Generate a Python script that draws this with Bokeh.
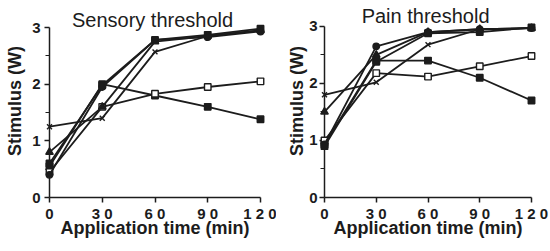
from bokeh.plotting import figure
from bokeh.layouts import row
from bokeh.models import FixedTicker, Label, Range1d
from bokeh.embed import file_html
from bokeh.resources import INLINE

# ---------------- data ----------------
times = [0, 30, 60, 90, 120]
x_ticks = [0, 30, 60, 90, 120]
x_tick_labels = {0: "0", 30: "3 0", 60: "6 0", 90: "9 0", 120: "1 2 0"}
y_ticks = [0, 1, 2, 3]
y_minor_ticks = [0.5, 1.5, 2.5]
titles = ["Sensory threshold", "Pain threshold"]
x_label = "Application time (min)"
y_label = "Stimulus (W)"

# Sensory threshold
sens_filled_square = [0.55, 2.0, 1.8, 1.6, 1.38]
sens_open_square = [0.45, 1.6, 1.83, 1.95, 2.05]
sens_circle = [0.4, 1.95, 2.78, 2.83, 2.93]
sens_top_square = [0.6, 1.98, 2.78, 2.87, 2.98]
sens_triangle = [0.8, 1.6, 2.75, 2.85, 2.95]
sens_cross = [1.25, 1.4, 2.57, 2.85, 2.95]

# Pain threshold
pain_filled_square = [0.93, 2.4, 2.4, 2.1, 1.7]
pain_open_square = [1.0, 2.18, 2.12, 2.3, 2.48]
pain_circle = [0.93, 2.65, 2.9, 2.95, 2.97]
pain_top_square = [0.9, 2.38, 2.88, 2.9, 2.98]
pain_triangle = [1.5, 2.5, 2.9, 2.95, 2.97]
pain_cross = [1.8, 2.02, 2.68, 2.95, 2.97]

FONT = "Liberation Sans"
INK = "#1c1c1c"


def make_panel(title, series, width, mb_left, mb_right, mb_top, mb_bottom,
               y_end, title_y, ylab_standoff, ylab_axis_standoff):
    p = figure(width=width, height=250, x_range=Range1d(0, 120), y_range=Range1d(0, y_end),
               output_backend="svg", toolbar_location=None, title=None,
               min_border_left=mb_left, min_border_right=mb_right,
               min_border_top=mb_top, min_border_bottom=mb_bottom)
    p.outline_line_color = None
    p.grid.visible = False
    p.background_fill_color = "white"
    p.border_fill_color = "white"

    p.xaxis.ticker = FixedTicker(ticks=x_ticks)
    p.xaxis.major_label_overrides = x_tick_labels
    p.yaxis.ticker = FixedTicker(ticks=y_ticks, minor_ticks=y_minor_ticks)
    p.yaxis.bounds = (0, 3)

    for ax in (p.xaxis, p.yaxis):
        ax.axis_line_color = INK
        ax.axis_line_width = 1.5
        ax.major_tick_line_color = INK
        ax.major_tick_line_width = 1.5
        ax.minor_tick_line_color = INK
        ax.minor_tick_line_width = 1.2
        ax.major_tick_in = 0
        ax.minor_tick_in = 0
        ax.major_label_text_font = FONT
        ax.major_label_text_font_style = "bold"
        ax.major_label_text_color = INK
        ax.axis_label_text_font = FONT
        ax.axis_label_text_font_style = "bold"
        ax.axis_label_text_color = INK

    p.xaxis.major_tick_out = 5
    p.xaxis.minor_tick_out = 0
    p.xaxis.major_label_text_font_size = "15px"
    p.xaxis.major_label_standoff = 2
    p.xaxis.axis_label = x_label
    p.xaxis.axis_label_text_font_size = "18px"
    p.xaxis.axis_label_standoff = -7

    p.yaxis.major_tick_out = 5
    p.yaxis.minor_tick_out = 4
    p.yaxis.major_label_text_font_size = "15px"
    p.yaxis.major_label_standoff = ylab_standoff
    p.yaxis.axis_label = y_label
    p.yaxis.axis_label_text_font_size = "18px"
    p.yaxis.axis_label_standoff = ylab_axis_standoff

    kinds = [
        ("square", INK, 6.5),
        ("square", "white", 6.5),
        ("circle", INK, 6.5),
        ("square", INK, 6.5),
        ("triangle", INK, 7.5),
        ("x", INK, 7),
    ]
    for vals, (marker, fill, size) in zip(series, kinds):
        p.line(times, vals, line_color=INK, line_width=1.8, level="overlay")
        p.scatter(times, vals, marker=marker, size=size, fill_color=fill,
                  line_color=INK, line_width=1.4, level="overlay")

    p.add_layout(Label(x=58.6, y=title_y, text=title, text_align="center",
                       text_baseline="alphabetic", text_font=FONT,
                       text_font_size="20px", text_color=INK))
    return p


left = make_panel(titles[0],
                  [sens_filled_square, sens_open_square, sens_circle,
                   sens_top_square, sens_triangle, sens_cross],
                  276, 49, 16, 4, 53, 3.406, 3.14, 4, 4)
right = make_panel(titles[1],
                   [pain_filled_square, pain_open_square, pain_circle,
                    pain_top_square, pain_triangle, pain_cross],
                   273, 48, 18, 4, 52, 3.384, 3.175, 2, -1)

layout = row(left, right)
open("out.html", "w").write(file_html(layout, INLINE))
